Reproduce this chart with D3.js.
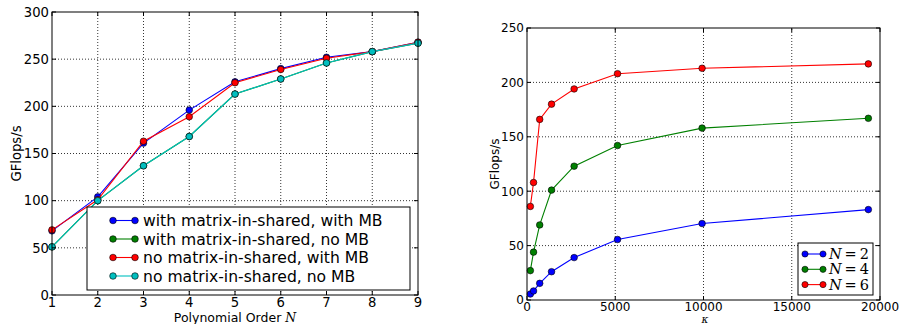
<!DOCTYPE html>
<html>
<head>
<meta charset="utf-8">
<script src="https://cdn.jsdelivr.net/npm/d3@7.9.0/dist/d3.min.js"></script>
<style>
  body { margin: 0; background: #fff; }
  svg { display: block; font-family: "DejaVu Sans", sans-serif; }
</style>
</head>
<body>
<svg id="chart" width="902" height="324"></svg>
<script>
// left panel: polynomial order vs GFlops/s
const orders = [1, 2, 3, 4, 5, 6, 7, 8, 9];
const withSharedWithMB = [68, 104, 161, 196, 226, 240, 252, 258, 268];
const withSharedNoMB = [51, 100, 137, 168, 213, 229, 246, 258, 267];
const noSharedWithMB = [69, 101, 163, 189, 225, 239, 251, 258, 268];
const noSharedNoMB = [51, 100, 137, 168, 213, 229, 246, 258, 267];
const leftLabels = ["with matrix-in-shared, with MB", "with matrix-in-shared, no MB",
  "no matrix-in-shared, with MB", "no matrix-in-shared, no MB"];
const leftYTicks = [0, 50, 100, 150, 200, 250, 300];

// right panel: kappa vs GFlops/s
const kappa = [190, 370, 720, 1390, 2670, 5130, 9920, 19340];
const gflopsN2 = [5.5, 8.3, 15.3, 26, 39, 55.6, 70.3, 83.1];
const gflopsN4 = [27, 44, 69, 101, 123, 142, 158, 167];
const gflopsN6 = [86, 108, 166, 180, 194, 208, 213, 217];
const rightLabels = ["2", "4", "6"];
const rightXTicks = [0, 5000, 10000, 15000, 20000];
const rightYTicks = [0, 50, 100, 150, 200, 250];

const svg = d3.select("#chart");

function panel(opts) {
  const { x, y, xTicks, yTicks, series, fs } = opts;
  const g = svg.append("g");
  const [x0, x1] = x.range();
  const [y0, y1] = y.range();

  // dotted grid
  g.append("g").selectAll("line").data(xTicks.slice(1, -1)).join("line")
    .attr("x1", d => x(d)).attr("x2", d => x(d)).attr("y1", y0).attr("y2", y1)
    .attr("stroke", "#000").attr("stroke-width", 0.8).attr("stroke-dasharray", "1,2");
  g.append("g").selectAll("line").data(yTicks.slice(1, -1)).join("line")
    .attr("y1", d => y(d)).attr("y2", d => y(d)).attr("x1", x0).attr("x2", x1)
    .attr("stroke", "#000").attr("stroke-width", 0.8).attr("stroke-dasharray", "1,2");

  // series
  const line = d3.line().x(d => x(d[0])).y(d => y(d[1]));
  series.forEach(s => {
    const pts = s.xs.map((v, i) => [v, s.ys[i]]);
    g.append("path").datum(pts).attr("d", line)
      .attr("fill", "none").attr("stroke", s.color).attr("stroke-width", 1.1);
    g.append("g").selectAll("circle").data(pts).join("circle")
      .attr("cx", d => x(d[0])).attr("cy", d => y(d[1])).attr("r", 3.3)
      .attr("fill", s.color).attr("stroke", "#000").attr("stroke-width", 0.6);
  });

  // frame
  g.append("rect").attr("x", x0).attr("y", y1).attr("width", x1 - x0).attr("height", y0 - y1)
    .attr("fill", "none").attr("stroke", "#000").attr("stroke-width", 1);

  // inward ticks, all four sides
  const tk = 4;
  xTicks.forEach(t => {
    g.append("line").attr("x1", x(t)).attr("x2", x(t)).attr("y1", y0).attr("y2", y0 - tk).attr("stroke", "#000");
    g.append("line").attr("x1", x(t)).attr("x2", x(t)).attr("y1", y1).attr("y2", y1 + tk).attr("stroke", "#000");
  });
  yTicks.forEach(t => {
    g.append("line").attr("y1", y(t)).attr("y2", y(t)).attr("x1", x0).attr("x2", x0 + tk).attr("stroke", "#000");
    g.append("line").attr("y1", y(t)).attr("y2", y(t)).attr("x1", x1).attr("x2", x1 - tk).attr("stroke", "#000");
  });

  // tick labels
  g.append("g").selectAll("text").data(xTicks).join("text")
    .attr("x", d => x(d)).attr("y", y0 + fs - 1.5).attr("text-anchor", "middle")
    .attr("font-size", fs).text(d => d);
  g.append("g").selectAll("text").data(yTicks).join("text")
    .attr("x", x0 - 3).attr("y", d => y(d) + fs * 0.36).attr("text-anchor", "end")
    .attr("font-size", fs).text(d => d);

  // y label
  g.append("text").attr("transform", `translate(${opts.yLabelX},${(y0 + y1) / 2}) rotate(-90)`)
    .attr("text-anchor", "middle").attr("font-size", fs).text("GFlops/s");
  return g;
}

// ---- left ----
const xL = d3.scaleLinear().domain([1, 9]).range([52, 418]);
const yL = d3.scaleLinear().domain([0, 300]).range([295, 12]);
const leftColors = ["#0000ff", "#008000", "#ff0000", "#00bfbf"];
const leftSeries = [withSharedWithMB, withSharedNoMB, noSharedWithMB, noSharedNoMB]
  .map((ys, i) => ({ xs: orders, ys, color: leftColors[i] }));
const gL = panel({ x: xL, y: yL, xTicks: orders, yTicks: leftYTicks, series: leftSeries, yLabelX: 21, fs: 13.2 });

const xlab = gL.append("text").attr("x", 235).attr("y", 322).attr("text-anchor", "middle").attr("font-size", 12.5);
xlab.append("tspan").text("Polynomial Order ");
xlab.append("tspan").attr("font-family", "DejaVu Serif").attr("font-style", "italic").text("N");

// left legend
const legL = gL.append("g");
legL.append("rect").attr("x", 87).attr("y", 207).attr("width", 323).attr("height", 83)
  .attr("fill", "#fff").attr("stroke", "#000").attr("stroke-width", 1);
leftLabels.forEach((lab, i) => {
  const cy = 220.5 + i * 18.5;
  legL.append("line").attr("x1", 113).attr("x2", 135).attr("y1", cy).attr("y2", cy)
    .attr("stroke", leftColors[i]).attr("stroke-width", 1.1);
  [113, 135].forEach(cx => legL.append("circle").attr("cx", cx).attr("cy", cy).attr("r", 3.3)
    .attr("fill", leftColors[i]).attr("stroke", "#000").attr("stroke-width", 0.6));
  legL.append("text").attr("x", 143).attr("y", cy + 5.6).attr("font-size", 15.6).text(lab);
});

// ---- right ----
const xR = d3.scaleLinear().domain([0, 20000]).range([527, 880]);
const yR = d3.scaleLinear().domain([0, 250]).range([300, 28]);
const rightColors = ["#0000ff", "#008000", "#ff0000"];
const rightSeries = [gflopsN2, gflopsN4, gflopsN6]
  .map((ys, i) => ({ xs: kappa, ys, color: rightColors[i] }));
const gR = panel({ x: xR, y: yR, xTicks: rightXTicks, yTicks: rightYTicks, series: rightSeries, yLabelX: 499, fs: 12 });

gR.append("text").attr("x", 705).attr("y", 322.5).attr("text-anchor", "middle")
  .attr("font-family", "DejaVu Serif").attr("font-style", "italic").attr("font-size", 10.5).text("κ");

// right legend
const legR = gR.append("g");
legR.append("rect").attr("x", 798).attr("y", 243).attr("width", 75).attr("height", 52)
  .attr("fill", "#fff").attr("stroke", "#000").attr("stroke-width", 1);
rightLabels.forEach((lab, i) => {
  const cy = 254 + i * 15.3;
  legR.append("line").attr("x1", 805).attr("x2", 823).attr("y1", cy).attr("y2", cy)
    .attr("stroke", rightColors[i]).attr("stroke-width", 1.1);
  [805, 823].forEach(cx => legR.append("circle").attr("cx", cx).attr("cy", cy).attr("r", 3.1)
    .attr("fill", rightColors[i]).attr("stroke", "#000").attr("stroke-width", 0.6));
  const t = legR.append("text").attr("x", 829).attr("y", cy + 5).attr("font-size", 14.5)
    .attr("font-family", "DejaVu Serif");
  t.append("tspan").attr("font-style", "italic").text("N");
  t.append("tspan").text("\u2009=\u2009" + lab);
});
</script>
</body>
</html>
